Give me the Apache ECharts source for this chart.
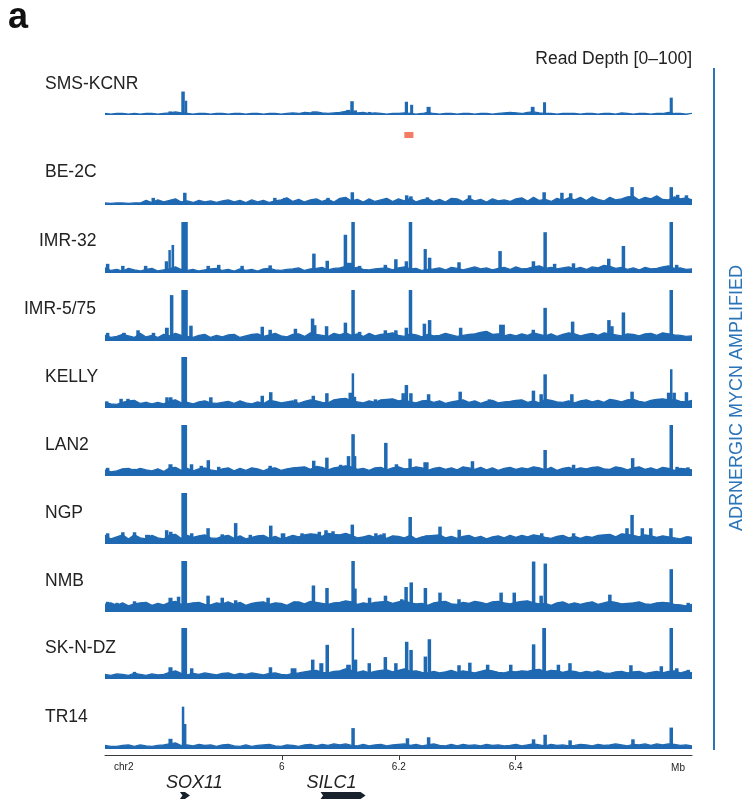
<!DOCTYPE html>
<html>
<head>
<meta charset="utf-8">
<script src="https://cdn.jsdelivr.net/npm/echarts@6/dist/echarts.min.js"></script>
<style>
  html, body { margin: 0; padding: 0; background: #fff; }
  #chart { width: 746px; height: 803px; }
</style>
</head>
<body>
<div id="chart"></div>
<script>
// Genomic window shown (Mb on chr2)
const X_MIN = 5.6975;
const X_MAX = 6.7015;

// Ruler ticks
const tickValues = [6.0, 6.2, 6.4];
const tickLabels = ['6', '6.2', '6.4'];

// Sample names, top to bottom
const samples = ['SMS-KCNR', 'BE-2C', 'IMR-32', 'IMR-5/75', 'KELLY', 'LAN2', 'NGP', 'NMB', 'SK-N-DZ', 'TR14'];

// Background read depth (0-100) in 101 evenly spaced bins across the window
const smsKcnrBase = [
  3,2,3,3,2,3,2,3,3,2, 3,4,6,4,3,2,3,3,2,3, 3,2,3,3,2,3,3,2,3,3, 2,3,4,3,5,4,6,4,3,4,
  5,7,5,4,5,3,4,3,2,3, 3,4,3,2,3,5,3,2,3,3, 2,3,3,2,3,3,2,3,4,5, 4,3,5,6,4,3,3,2,3,3,
  3,2,3,3,2,3,3,2,4,3, 2,3,3,2,3,3,5,3,3,2, 3];
const be2cBase = [
  4,3,4,4,3,4,4,9,5,10, 6,9,12,6,8,5,9,6,8,5, 8,10,6,9,5,10,6,9,5,8, 10,14,7,11,6,10,12,7,11,6,
  13,15,8,11,6,12,7,10,13,7, 12,8,13,6,10,12,7,11,6,13, 12,7,13,8,11,6,12,8,10,7, 12,14,8,15,9,11,7,13,9,14,
  10,15,9,16,11,8,15,10,12,16, 17,10,15,12,18,11,10,16,12,14, 10];
const imr32Base = [
  10,5,7,4,9,6,4,7,9,4, 6,8,12,7,5,7,4,6,8,9, 5,7,4,8,5,7,4,8,9,6, 5,7,8,10,5,8,9,11,6,9,
  10,13,9,11,7,6,8,9,10,6, 10,12,8,9,5,7,8,10,6,11, 9,6,9,12,8,10,6,9,11,7, 12,8,9,12,14,9,11,8,10,12,
  8,11,7,12,10,15,13,9,11,7, 10,6,11,8,9,12,14,9,10,7, 8];
const imr575Base = [
  11,7,9,13,10,7,15,8,11,7, 13,10,15,11,9,7,11,13,7,11, 8,12,13,7,10,13,14,9,12,15, 10,8,13,14,9,16,13,11,9,15,
  12,16,11,14,9,15,10,13,14,16, 11,9,14,12,8,13,10,11,15,12, 9,11,13,14,17,19,13,14,10,13, 10,14,11,16,13,10,14,9,13,16,
  14,10,13,15,11,16,14,12,10,14, 13,10,14,15,11,16,14,12,11,9, 10];
const kellyBase = [
  11,8,7,11,14,15,9,11,8,11, 8,14,16,10,11,8,12,14,10,9, 11,13,9,14,10,8,12,9,15,13, 10,12,14,9,13,16,14,11,10,16,
  18,19,14,12,10,14,11,16,17,18, 14,16,12,10,14,15,11,14,9,12, 14,16,11,14,9,13,15,10,12,13, 15,16,11,14,10,17,15,12,11,14,
  10,14,16,12,15,11,17,15,12,16, 17,13,11,15,17,18,16,17,13,12, 15];
const lan2Base = [
  12,8,10,14,15,11,15,12,10,14, 9,16,17,11,15,10,14,16,12,10, 14,16,10,15,11,16,14,10,15,16, 11,14,16,17,18,13,19,17,12,16,
  18,20,18,13,15,11,16,17,12,16, 18,14,15,18,16,11,15,17,13,16, 12,18,16,13,17,12,16,11,15,17, 13,16,14,18,16,12,17,11,15,17,
  13,16,14,17,18,14,13,18,16,12, 16,18,13,16,12,17,15,11,15,14, 12];
const ngpBase = [
  17,10,14,18,10,18,12,10,17,12, 10,18,19,11,17,13,16,18,12,11, 15,17,11,16,10,13,16,17,11,15, 10,13,17,14,18,20,19,15,21,19,
  18,21,17,12,14,17,13,18,11,16, 15,12,17,10,14,16,17,18,12,15, 11,15,17,12,15,10,14,16,12,17, 13,17,14,18,16,13,11,15,17,12,
  15,11,15,13,17,18,19,14,20,19, 17,14,18,16,13,16,14,12,10,14, 13];
const nmbBase = [
  15,18,13,18,12,16,18,19,13,17, 14,19,21,15,16,18,19,15,14,18, 16,20,15,19,13,17,19,20,15,18, 17,13,19,20,16,21,19,17,15,18,
  19,22,20,15,18,16,19,20,21,17, 20,22,18,16,17,13,18,20,21,16, 15,19,17,21,19,16,20,21,18,16, 19,21,22,18,16,17,13,18,20,15,
  18,15,18,20,15,18,21,19,16,17, 18,20,16,15,18,19,18,15,14,12, 15];
const skndzBase = [
  9,7,10,9,7,11,9,7,10,8, 9,13,16,11,8,11,9,12,10,8, 11,12,8,11,9,12,10,8,11,12, 9,8,11,12,14,16,17,13,12,15,
  16,20,17,13,16,12,15,17,18,14, 17,20,15,16,13,12,15,12,14,17, 13,16,14,12,15,18,16,13,12,15, 14,16,15,18,19,14,17,16,13,16,
  15,12,15,13,16,12,11,14,15,12, 14,15,11,13,15,12,15,16,12,15, 12];
const tr14Base = [
  7,5,5,7,8,5,8,6,5,7, 8,10,12,7,8,6,9,7,8,5, 8,9,6,5,8,5,7,8,9,6, 5,8,7,5,8,9,6,9,7,10,
  8,10,7,6,9,6,8,9,6,8, 9,10,7,9,6,8,10,7,6,9, 6,9,7,8,6,9,7,8,6,7, 9,6,8,10,8,6,9,7,8,6,
  7,9,8,6,9,7,8,10,8,6, 9,8,10,7,10,8,10,9,7,8, 6];

// Peaks: [centre Mb, read depth, span Mb (optional, default PEAK_SPAN)]
const PEAK_SPAN = 0.006;
const smsKcnrPeaks = [
  [5.809,7,0.006],[5.831,46,0.006],[5.836,28,0.004],[6.0535,7],[6.1135,10,0.007],[6.120,27,0.006],[6.1255,9],
  [6.150,6],[6.213,26,0.0055],[6.222,20,0.0052],[6.251,16,0.007],[6.398,5],[6.429,16,0.0065],[6.4493,25,0.0052],
  [6.666,34,0.0053]];
const be2cPeaks = [
  [5.780,14],[5.834,24],[5.988,14],[6.005,14],[6.079,14],[6.1205,25],[6.2135,19],[6.2207,17],[6.249,15],
  [6.321,19],[6.4486,25],[6.479,24],[6.494,23],[6.599,35],[6.666,35],[6.677,20],[6.692,19]];
const imr32Peaks = [
  [5.702,18],[5.728,14],[5.767,14],[5.8027,23],[5.808,45,0.004],[5.8135,55,0.0045],[5.8336,100,0.011],[5.874,14],
  [5.892,16],[5.932,14],[5.980,15],[6.0548,38],[6.0776,24],[6.1087,75],[6.115,20,0.01],[6.1218,100],[6.133,14],
  [6.177,16],[6.195,27],[6.213,23],[6.220,100],[6.2452,47,0.0055],[6.2527,30],[6.303,21],[6.3732,43],[6.4303,23],
  [6.4503,80],[6.4665,18],[6.4988,19],[6.5591,28],[6.5842,53],[6.666,100],[6.6753,16]];
const imr575Peaks = [
  [5.702,16],[5.730,16,0.0065],[5.754,21],[5.7805,16],[5.8033,26,0.0066],[5.8115,90],[5.8336,100,0.011],[5.8445,30],
  [5.9665,28],[5.980,22],[6.0232,24],[6.0525,44],[6.0562,31],[6.0765,29],[6.1087,36],[6.1218,100],[6.133,18],
  [6.177,21],[6.195,21],[6.213,26],[6.220,100],[6.2438,34],[6.2527,41],[6.3058,26],[6.3765,32,0.01],[6.430,22],
  [6.4503,65],[6.4973,38],[6.5594,41],[6.5645,29],[6.5842,56],[6.666,100]];
const kellyPeaks = [
  [5.7005,13],[5.725,18],[5.7368,18],[5.748,13],[5.7675,12],[5.8035,21],[5.810,21],[5.833,100,0.0098],[5.8785,21],
  [5.9665,24],[5.981,31],[6.0235,17],[6.0538,24],[6.077,29],[6.117,30,0.006],[6.1215,68,0.004],[6.125,22,0.0042],
  [6.160,17],[6.2075,29],[6.213,45],[6.2207,29],[6.251,27],[6.305,32],[6.355,17],[6.4303,34],[6.4435,27],[6.4503,66],
  [6.496,27],[6.599,32],[6.6615,30],[6.666,76,0.004],[6.671,30,0.006],[6.692,31]];
const lan2Peaks = [
  [5.702,16],[5.7275,14],[5.7475,14],[5.8095,23,0.007],[5.833,100,0.0098],[5.8455,23],[5.8622,20],[5.8742,31],
  [5.892,18],[5.980,20],[6.032,17],[6.0545,30],[6.077,36],[6.1005,22],[6.114,39],[6.1218,82],[6.1252,39,0.0036],
  [6.1778,65],[6.196,23],[6.2193,34],[6.2465,27,0.009],[6.326,29],[6.4503,51],[6.499,22],[6.600,35],[6.666,100],
  [6.676,18],[6.6945,17]];
const ngpPeaks = [
  [5.702,21],[5.728,23],[5.748,23],[5.7705,18,0.009],[5.803,27],[5.810,24],[5.833,100,0.0098],[5.8458,21],[5.8738,31],
  [5.898,19],[5.921,41],[5.946,18],[5.981,36],[6.002,21,0.008],[6.0345,21],[6.064,24],[6.0755,27],[6.0875,25],
  [6.1205,38],[6.1608,21],[6.1748,21],[6.2195,53],[6.2475,17],[6.2705,34],[6.3033,28],[6.4445,21],[6.499,21],
  [6.5903,31],[6.599,57],[6.6165,31],[6.631,31],[6.6655,31],[6.695,15]];
const nmbPeaks = [
  [5.702,20],[5.718,18],[5.748,21],[5.8095,28,0.007],[5.8233,30],[5.833,100,0.0098],[5.8738,32],[5.898,28],[5.921,23],
  [5.9765,28],[6.0222,21],[6.054,52],[6.0772,47],[6.1218,100],[6.125,46],[6.150,28],[6.1772,32],[6.205,25],
  [6.2125,49],[6.2213,58],[6.2455,47],[6.2705,38],[6.303,25],[6.375,38],[6.3975,38],[6.4306,99],[6.4435,32],
  [6.4506,95],[6.561,34],[6.666,84],[6.695,18]];
const skndzPeaks = [
  [5.748,14],[5.8095,23,0.007],[5.833,100,0.0098],[5.8458,21],[5.9805,23],[6.020,21,0.01],[6.0528,38],
  [6.0675,31,0.007],[6.0776,67],[6.114,28,0.008],[6.1215,100,0.004],[6.126,38],[6.1495,31],[6.177,43],[6.195,31],
  [6.2135,73],[6.221,57],[6.2455,44],[6.2523,78],[6.303,27],[6.3215,32],[6.352,28],[6.3915,28],[6.4306,68],
  [6.4486,100,0.0065],[6.473,28],[6.4928,31],[6.597,27],[6.649,25],[6.666,100],[6.6755,21],[6.695,18]];
const tr14Peaks = [
  [5.8095,20,0.007],[5.831,83,0.0035],[5.8346,49,0.004],[6.1218,41],[6.2148,21],[6.251,23],[6.4305,19],[6.4503,28],
  [6.493,17],[6.6005,19],[6.666,42]];

const baseTracks = [smsKcnrBase, be2cBase, imr32Base, imr575Base, kellyBase, lan2Base, ngpBase, nmbBase, skndzBase, tr14Base];
const peakTracks = [smsKcnrPeaks, be2cPeaks, imr32Peaks, imr575Peaks, kellyPeaks, lan2Peaks, ngpPeaks, nmbPeaks, skndzPeaks, tr14Peaks];

// Highlighted region under the first track
const regionStart = [6.2095];
const regionEnd = [6.2250];

// Gene models
const geneNames = ['SOX11', 'SILC1'];
const geneStarts = [5.8257, 6.0662];
const geneEnds = [5.8428, 6.1432];

// ---- layout ----
const BLUE = '#1f69b3';
const GROUP_BLUE = '#2a74b9';
const RED = '#f47c64';
const GENE_COLOR = '#17212b';
const FONT = '"Liberation Sans", Arial, Helvetica, sans-serif';
const PLOT_LEFT = 105, PLOT_RIGHT = 54;
const TRACK_H = 51;
const trackBottom = [115, 205, 273, 341, 408, 476, 544, 612, 679, 749];
const labelLeft = [45, 45, 39, 24, 45, 45, 45, 45, 45, 45];
const labelMidY = [84, 172, 241, 309, 377, 445, 513, 581, 648, 717];

const grids = [], xAxes = [], yAxes = [], series = [];

function peakRender(params, api) {
  const p0 = api.coord([api.value(0), 0]);
  const p1 = api.coord([api.value(1), api.value(2)]);
  const w = Math.max(p1[0] - p0[0], 2.5);
  return {
    type: 'rect',
    shape: { x: (p0[0] + p1[0]) / 2 - w / 2, y: p1[1], width: w, height: p0[1] - p1[1] },
    style: { fill: BLUE }
  };
}

samples.forEach((name, i) => {
  grids.push({ left: PLOT_LEFT, right: PLOT_RIGHT, top: trackBottom[i] - TRACK_H, height: TRACK_H });
  xAxes.push({ type: 'value', gridIndex: i, min: X_MIN, max: X_MAX, show: false });
  yAxes.push({ type: 'value', gridIndex: i, min: 0, max: 100, show: false });
  const base = baseTracks[i];
  const step = (X_MAX - X_MIN) / (base.length - 1);
  series.push({
    type: 'line', name, xAxisIndex: i, yAxisIndex: i, silent: true,
    data: base.map((v, k) => [X_MIN + k * step, v]),
    symbol: 'none',
    lineStyle: { color: BLUE, width: 1.2 },
    areaStyle: { color: BLUE, opacity: 1 }
  });
  // peak table: [start, end, depth]
  const rows = peakTracks[i].map(p => {
    const span = p[2] !== undefined ? p[2] : PEAK_SPAN;
    return [p[0] - span / 2, p[0] + span / 2, p[1]];
  });
  series.push({
    type: 'custom', name: name + ' peaks', xAxisIndex: i, yAxisIndex: i, silent: true,
    data: rows, encode: { x: [0, 1], y: 2 },
    renderItem: peakRender, clip: true
  });
});

// highlighted region row
const REGION_GRID = samples.length;
grids.push({ left: PLOT_LEFT, right: PLOT_RIGHT, top: 132, height: 6 });
xAxes.push({ type: 'value', gridIndex: REGION_GRID, min: X_MIN, max: X_MAX, show: false });
yAxes.push({ type: 'value', gridIndex: REGION_GRID, min: 0, max: 1, show: false });
series.push({
  type: 'custom', xAxisIndex: REGION_GRID, yAxisIndex: REGION_GRID, silent: true,
  data: regionStart.map((s, k) => [s, regionEnd[k]]), encode: { x: [0, 1] },
  renderItem(params, api) {
    const a = api.coord([api.value(0), 1]);
    const b = api.coord([api.value(1), 0]);
    return { type: 'rect', shape: { x: a[0], y: a[1], width: b[0] - a[0], height: b[1] - a[1] }, style: { fill: RED } };
  }
});

// coordinate ruler
const RULER_GRID = samples.length + 1;
grids.push({ left: PLOT_LEFT, right: PLOT_RIGHT, top: 720, height: 35 });
xAxes.push({
  type: 'value', gridIndex: RULER_GRID, min: X_MIN, max: X_MAX, position: 'bottom',
  splitLine: { show: false },
  axisLine: { show: true, lineStyle: { color: '#3a3a3a', width: 1 } },
  axisTick: { show: true, customValues: tickValues, length: 5, lineStyle: { color: '#3a3a3a' } },
  axisLabel: {
    customValues: tickValues, margin: 7, fontSize: 10, fontFamily: FONT, color: '#222',
    formatter: v => tickLabels[tickValues.findIndex(t => Math.abs(t - v) < 1e-6)] ?? ''
  }
});
yAxes.push({ type: 'value', gridIndex: RULER_GRID, min: 0, max: 1, show: false });

// gene models
const GENE_GRID = samples.length + 2;
grids.push({ left: PLOT_LEFT, right: PLOT_RIGHT, top: 792, height: 7 });
xAxes.push({ type: 'value', gridIndex: GENE_GRID, min: X_MIN, max: X_MAX, show: false });
yAxes.push({ type: 'value', gridIndex: GENE_GRID, min: 0, max: 1, show: false });
series.push({
  type: 'custom', xAxisIndex: GENE_GRID, yAxisIndex: GENE_GRID, silent: true, clip: false,
  data: geneStarts.map((s, k) => [s, geneEnds[k]]), encode: { x: [0, 1] },
  renderItem(params, api) {
    const a = api.coord([api.value(0), 1]);
    const b = api.coord([api.value(1), 0]);
    const top = a[1], bot = b[1], mid = (top + bot) / 2;
    const x0 = a[0], x1 = b[0];
    const tip = Math.min(5, (x1 - x0) / 2);
    const notch = 2.5;
    return {
      type: 'group',
      children: [
        { type: 'polygon', shape: { points: [[x0, top], [x1 - tip, top], [x1, mid], [x1 - tip, bot], [x0, bot], [x0 + notch, mid]] },
          style: { fill: GENE_COLOR } },
        { type: 'text', x: x0 - 14, y: top - 9,
          style: { text: geneNames[params.dataIndex], font: 'italic 18px ' + FONT, fill: '#222', textAlign: 'left', textVerticalAlign: 'middle' } }
      ]
    };
  }
});

const graphics = [
  { type: 'text', x: 8, y: 18, style: { text: 'a', font: 'bold 36px ' + FONT, fill: '#111', textAlign: 'left', textVerticalAlign: 'middle' } },
  { type: 'text', x: 692, y: 59, style: { text: 'Read Depth [0\u2013100]', font: '17.5px ' + FONT, fill: '#222', textAlign: 'right', textVerticalAlign: 'middle' } },
  { type: 'line', shape: { x1: 714, y1: 68, x2: 714, y2: 750 }, style: { stroke: GROUP_BLUE, lineWidth: 2 } },
  { type: 'text', x: 737, y: 398, rotation: Math.PI / 2,
    style: { text: 'ADRNERGIC MYCN AMPLIFIED', font: '18px ' + FONT, fill: GROUP_BLUE, textAlign: 'center', textVerticalAlign: 'middle' } },
  { type: 'text', x: 114, y: 767, style: { text: 'chr2', font: '10px ' + FONT, fill: '#222', textAlign: 'left', textVerticalAlign: 'middle' } },
  { type: 'text', x: 685, y: 768, style: { text: 'Mb', font: '10px ' + FONT, fill: '#222', textAlign: 'right', textVerticalAlign: 'middle' } }
];
samples.forEach((name, i) => {
  graphics.push({ type: 'text', x: labelLeft[i], y: labelMidY[i],
    style: { text: name, font: '17.5px ' + FONT, fill: '#222', textAlign: 'left', textVerticalAlign: 'middle' } });
});

const chart = echarts.init(document.getElementById('chart'), null, { renderer: 'canvas' });
chart.setOption({
  animation: false,
  backgroundColor: '#fff',
  grid: grids,
  xAxis: xAxes,
  yAxis: yAxes,
  series,
  graphic: { elements: graphics }
});
</script>
</body>
</html>
